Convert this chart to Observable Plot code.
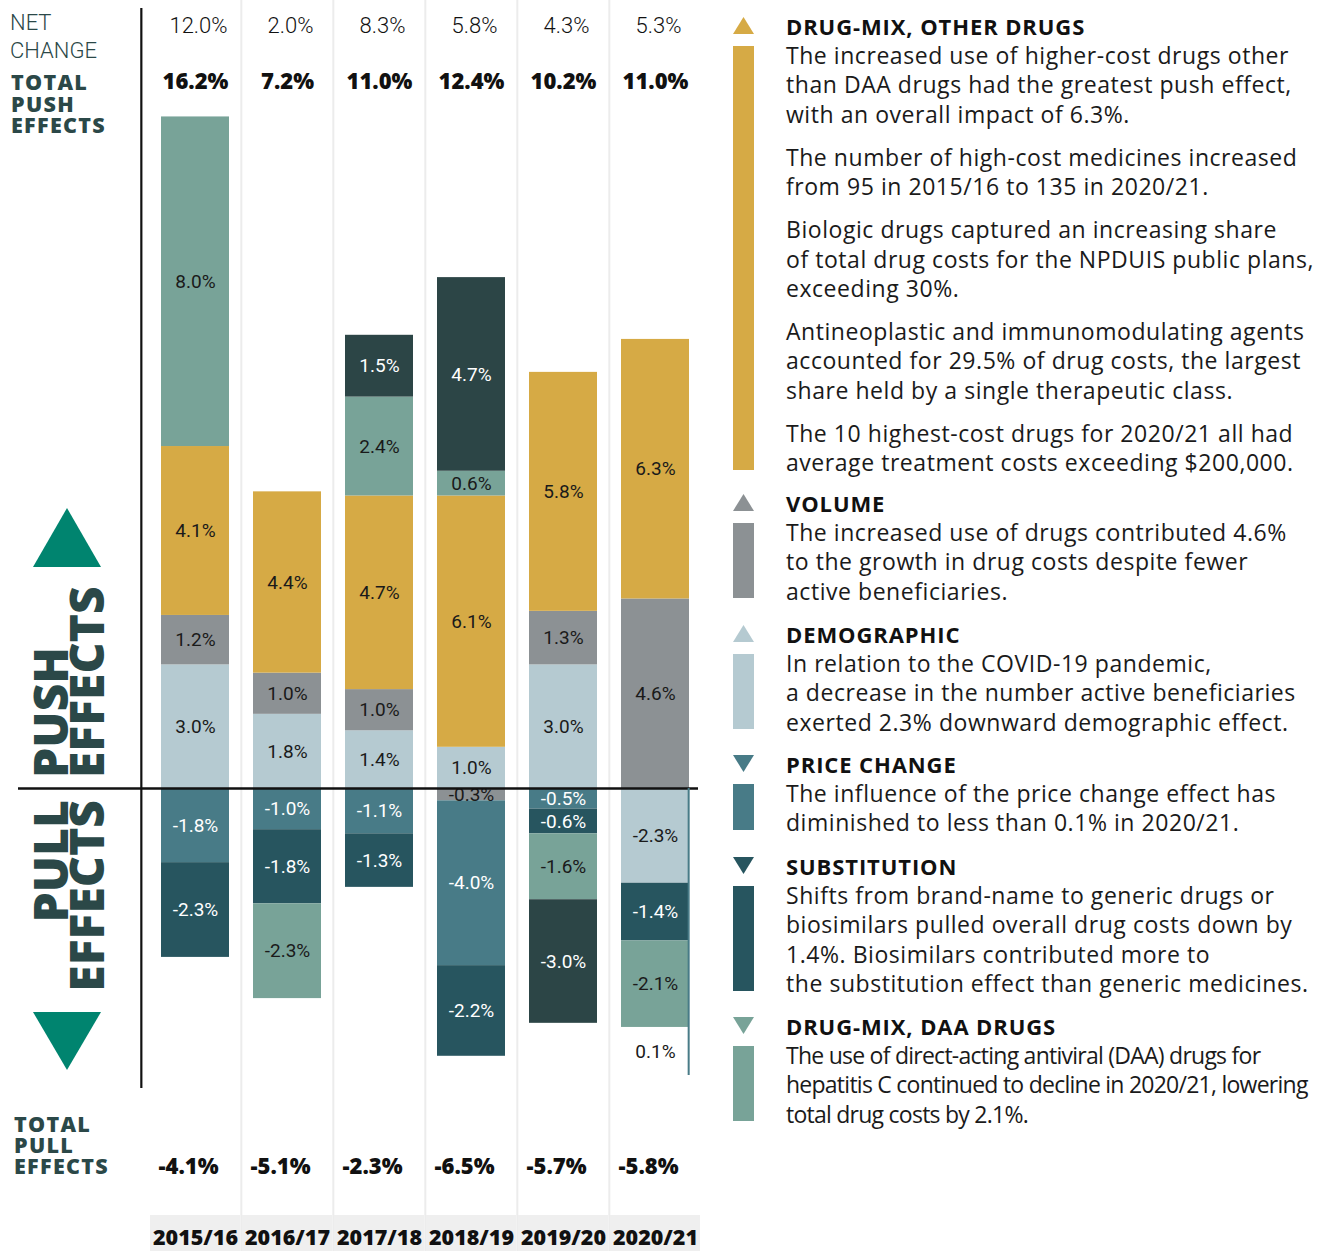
<!DOCTYPE html>
<html>
<head>
<meta charset="utf-8">
<script src="https://cdn.jsdelivr.net/npm/d3@7"></script>
<script src="https://cdn.jsdelivr.net/npm/@observablehq/plot@0.6"></script>
<style>
  body { margin: 0; background: #fff; font-family: Roboto, "Open Sans", sans-serif; }
  #wrap { position: relative; width: 1322px; height: 1251px; overflow: hidden; }
  #chart { position: absolute; left: 0; top: 0; }
  #leftlab { position: absolute; left: 0; top: 0; }
  #legend { position: absolute; left: 0; top: 0; }
  .sec { position: absolute; left: 786px; width: 536px; }
  .hd { position: relative; font-family: "Open Sans", sans-serif; font-weight: 700; font-size: 22px; letter-spacing: 0.9px; line-height: 30px; height: 30px; color: #111; white-space: nowrap; }
  .tri { position: absolute; left: -53px; top: 6px; }
  .bd { position: relative; font-family: "Open Sans", sans-serif; font-size: 23px; letter-spacing: 0.55px; line-height: 29.4px; color: #1a1a1a; white-space: nowrap; }
  .bd p { margin: 0 0 13.6px 0; }
  .bd p:last-child { margin-bottom: 0; }
  .bar { position: absolute; left: -53px; width: 21px; top: 5px; bottom: 8px; }
  .bd.tight { letter-spacing: -0.75px; }
</style>
</head>
<body>
<div id="wrap">
  <div id="chart"></div>
  <svg id="leftlab" width="140" height="1251">
    <g fill="#2b4848" font-family="Roboto, sans-serif">
      <text x="10" y="30" font-size="22" font-weight="300">NET</text>
      <text x="10" y="57.5" font-size="22" font-weight="300">CHANGE</text>
    </g>
    <g fill="#2b4848" font-family="'Open Sans', sans-serif" font-weight="800">
      <g font-size="21.5" letter-spacing="1.3">
        <text x="11" y="90">TOTAL</text>
        <text x="11" y="111.5">PUSH</text>
        <text x="11" y="133">EFFECTS</text>
        <text x="14" y="1132">TOTAL</text>
        <text x="14" y="1153">PULL</text>
        <text x="14" y="1174">EFFECTS</text>
      </g>
      <g font-size="48">
        <text transform="translate(68,778) rotate(-90)">PUSH</text>
        <text transform="translate(104,778) rotate(-90)">EFFECTS</text>
        <text transform="translate(68,800) rotate(-90)" text-anchor="end">PULL</text>
        <text transform="translate(104,800) rotate(-90)" text-anchor="end">EFFECTS</text>
      </g>
    </g>
    <polygon points="33,567 101,567 67,508" fill="#00846f"/>
    <polygon points="33,1012 101,1012 67,1070" fill="#00846f"/>
  </svg>
  <div id="legend"></div>
</div>
<script>
// ---------- data ----------
const years = ["2015/16", "2016/17", "2017/18", "2018/19", "2019/20", "2020/21"];
const netChange = [12.0, 2.0, 8.3, 5.8, 4.3, 5.3];
const totalPush = [16.2, 7.2, 11.0, 12.4, 10.2, 11.0];
const totalPull = [-4.1, -5.1, -2.3, -6.5, -5.7, -5.8];

const categories = ["Demographic", "Volume", "Price change", "Substitution", "Drug-mix, other drugs", "Drug-mix, DAA drugs", "OHIP+"];
const demographic   = [3.0, 1.8, 1.4, 1.0, 3.0, -2.3];
const volume        = [1.2, 1.0, 1.0, -0.3, 1.3, 4.6];
const priceChange   = [-1.8, -1.0, -1.1, -4.0, -0.5, null];
const substitution  = [-2.3, -1.8, -1.3, -2.2, -0.6, -1.4];
const drugMixOther  = [4.1, 4.4, 4.7, 6.1, 5.8, 6.3];
const drugMixDAA    = [8.0, -2.3, 2.4, 0.6, -1.6, -2.1];
const ohipPlus      = [null, null, 1.5, 4.7, -3.0, null];
const priceNote = [{year: "2020/21", value: 0.1}];

const categoryColors = ["#b5cad1", "#8c9194", "#487b87", "#27555f", "#d6aa45", "#78a398", "#2c4546"];
const darkCategories = new Set(["Price change", "Substitution", "OHIP+"]);

const legendItems = [
  {cat: "Drug-mix, other drugs", title: "DRUG-MIX, OTHER DRUGS", dir: "up", top: 11, paras: [
    ["The increased use of higher-cost drugs other", "than DAA drugs had the greatest push effect,", "with an overall impact of 6.3%."],
    ["The number of high-cost medicines increased", "from 95 in 2015/16 to 135 in 2020/21."],
    ["Biologic drugs captured an increasing share", "of total drug costs for the NPDUIS public plans,", "exceeding 30%."],
    ["Antineoplastic and immunomodulating agents", "accounted for 29.5% of drug costs, the largest", "share held by a single therapeutic class."],
    ["The 10 highest-cost drugs for 2020/21 all had", "average treatment costs exceeding $200,000."]]},
  {cat: "Volume", title: "VOLUME", dir: "up", top: 488, paras: [
    ["The increased use of drugs contributed 4.6%", "to the growth in drug costs despite fewer", "active beneficiaries."]]},
  {cat: "Demographic", title: "DEMOGRAPHIC", dir: "up", top: 619, paras: [
    ["In relation to the COVID-19 pandemic,", "a decrease in the number active beneficiaries", "exerted 2.3% downward demographic effect."]]},
  {cat: "Price change", title: "PRICE CHANGE", dir: "down", top: 749, paras: [
    ["The influence of the price change effect has", "diminished to less than 0.1% in 2020/21."]]},
  {cat: "Substitution", title: "SUBSTITUTION", dir: "down", top: 851, paras: [
    ["Shifts from brand-name to generic drugs or", "biosimilars pulled overall drug costs down by", "1.4%. Biosimilars contributed more to", "the substitution effect than generic medicines."]]},
  {cat: "Drug-mix, DAA drugs", title: "DRUG-MIX, DAA DRUGS", dir: "down", top: 1011, tight: true, paras: [
    ["The use of direct-acting antiviral (DAA) drugs for", "hepatitis C continued to decline in 2020/21, lowering", "total drug costs by 2.1%."]]}
];

// ---------- table ----------
const seriesValues = [demographic, volume, priceChange, substitution, drugMixOther, drugMixDAA, ohipPlus];
const rows = categories.flatMap((cat, c) =>
  years.map((year, i) => ({year, cat, value: seriesValues[c][i]})).filter(d => d.value != null));
const tops = years.map((year, i) => ({year, net: netChange[i], push: totalPush[i], pull: totalPull[i]}));
const fmt = v => v.toFixed(1) + "%";
const colorOf = cat => categoryColors[categories.indexOf(cat)];

// ---------- layout ----------
const xRange = [148, 702];
const bw = (xRange[1] - xRange[0]) / years.length;
const barInset = 12;
const yDomain = [-7.282, 18.932];
const notePull = d3.sum(rows.filter(r => r.year === priceNote[0].year && r.value < 0), r => r.value);
const heavy = "'Open Sans', Roboto, sans-serif";

const stackOpts = {x: "year", y: "value", z: "cat", order: categories};

const chart = Plot.plot({
  width: 720,
  height: 1251,
  marginLeft: 18,
  marginRight: 22,
  marginTop: 8,
  marginBottom: 163,
  x: {type: "band", domain: years, range: xRange, padding: 0, axis: null},
  y: {domain: yDomain, axis: null},
  color: {domain: categories, range: categoryColors},
  style: {fontFamily: "Roboto, sans-serif", background: "white"},
  marks: [
    Plot.ruleX(years.slice(1), {x: d => d, dx: -bw / 2, stroke: "#ececec", strokeWidth: 2, insetTop: -8, insetBottom: -163}),
    Plot.cell(years, {x: d => d, fill: "#efefef", insetTop: 1207, insetBottom: -163, insetLeft: 1, insetRight: 1}),
    Plot.barY(rows, Plot.stackY({...stackOpts, fill: "cat", insetLeft: barInset, insetRight: barInset})),
    Plot.text(rows, Plot.stackY({...stackOpts, text: d => darkCategories.has(d.cat) ? fmt(d.value) : null,
      fill: "white", fontSize: 19, fontWeight: 400})),
    Plot.text(rows, Plot.stackY({...stackOpts, text: d => darkCategories.has(d.cat) ? null : fmt(d.value),
      fill: "#1a1a1a", fontSize: 19, fontWeight: 400})),
    Plot.ruleY([0], {stroke: "#111", strokeWidth: 2.5}),
    Plot.ruleX([years[0]], {dx: -bw / 2 - 8, stroke: "#111", strokeWidth: 2.2}),
    Plot.ruleX(priceNote, {x: "year", y1: 0, y2: () => notePull, dx: bw / 2 - barInset - 1,
      insetBottom: -48, stroke: colorOf("Price change"), strokeWidth: 2}),
    Plot.text(priceNote, {x: "year", y: () => notePull, dy: 24, text: d => fmt(d.value), fontSize: 19, fill: "#1a1a1a"}),
    Plot.text(tops, {x: "year", text: d => fmt(d.net), frameAnchor: "top", lineAnchor: "middle", dy: 17, dx: 3,
      fontSize: 22, fontWeight: 300, fill: "#111"}),
    Plot.text(tops, {x: "year", text: d => fmt(d.push), frameAnchor: "top", lineAnchor: "middle", dy: 73,
      fontSize: 22, fontWeight: 800, fontFamily: heavy, fill: "#111"}),
    Plot.text(tops, {x: "year", text: d => fmt(d.pull), frameAnchor: "bottom", lineAnchor: "middle", dy: 78, dx: -7,
      fontSize: 22, fontWeight: 800, fontFamily: heavy, fill: "#111"}),
    Plot.text(tops, {x: "year", text: d => d.year, frameAnchor: "bottom", lineAnchor: "middle", dy: 150,
      fontSize: 21.5, fontWeight: 800, fontFamily: heavy, fill: "#111"})
  ]
});
document.getElementById("chart").appendChild(chart);

// ---------- legend ----------
const legend = document.getElementById("legend");
for (const item of legendItems) {
  const col = colorOf(item.cat);
  const sec = document.createElement("div");
  sec.className = "sec";
  sec.style.top = item.top + "px";
  const pts = item.dir === "up" ? "0,17 21,17 10.5,0" : "0,0 21,0 10.5,17";
  const paras = item.paras.map(p => `<p>${p.join("<br>")}</p>`).join("");
  sec.innerHTML = `<div class="hd"><svg class="tri" width="21" height="17"><polygon points="${pts}" fill="${col}"/></svg>${item.title}</div>
    <div class="bd${item.tight ? " tight" : ""}"><div class="bar" style="background:${col}"></div>${paras}</div>`;
  legend.appendChild(sec);
}
</script>
</body>
</html>
